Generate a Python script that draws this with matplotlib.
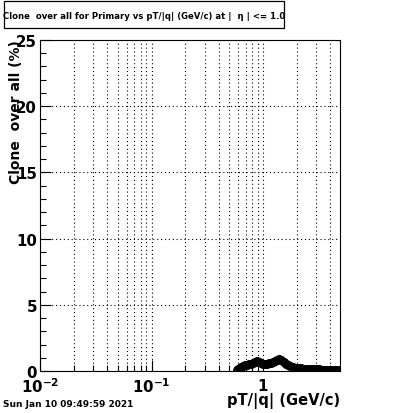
import numpy as np
import matplotlib
matplotlib.use("Agg")
import matplotlib.pyplot as plt
from matplotlib.patches import Rectangle
from matplotlib.ticker import FixedLocator, FixedFormatter, MultipleLocator, NullFormatter

# clone rate vs pT/|q|
pt = [0.58, 0.60, 0.62, 0.64, 0.66, 0.69, 0.72, 0.75, 0.78, 0.82, 0.85, 0.88,
      0.92, 0.96, 1.00, 1.04, 1.08, 1.13, 1.18, 1.23, 1.28, 1.34, 1.40, 1.46,
      1.53, 1.60, 1.68, 1.76, 1.85, 1.95, 2.06, 2.18, 2.32, 2.47, 2.63, 2.80,
      3.00, 3.20, 3.42, 3.65, 3.90, 4.15, 4.45, 4.75]
clone = [0.05, 0.15, 0.25, 0.30, 0.38, 0.42, 0.45, 0.50, 0.52, 0.58, 0.65, 0.72,
         0.70, 0.62, 0.55, 0.50, 0.52, 0.58, 0.62, 0.70, 0.78, 0.85, 0.88, 0.80,
         0.65, 0.52, 0.42, 0.35, 0.30, 0.26, 0.22, 0.20, 0.18, 0.16, 0.15, 0.14,
         0.12, 0.12, 0.11, 0.11, 0.10, 0.10, 0.10, 0.10]

title = "Clone  over all for Primary vs pT/|q| (GeV/c) at |  η | <= 1.0"
xlabel = "pT/|q| (GeV/c)"
ylabel = "Clone  over all (%)"
stamp = "Sun Jan 10 09:49:59 2021"

fig = plt.figure(figsize=(4.0, 4.14), dpi=100)
ax = fig.add_axes([0.10, 0.1014, 0.75, 0.7996])

ax.plot(pt, clone, linestyle="none", marker="o", markersize=5.5,
        color="black", markeredgecolor="black")

ax.set_xscale("log")
ax.set_xlim(0.01, 4.9)
ax.set_ylim(0, 25)

# ticks inside, only on bottom/left, ROOT style
ax.tick_params(axis="both", which="both", direction="in", top=False, right=False)
ax.tick_params(axis="both", which="major", length=8, width=0.8)
ax.tick_params(axis="both", which="minor", length=4, width=0.8)
ax.yaxis.set_major_locator(MultipleLocator(5))
ax.yaxis.set_minor_locator(MultipleLocator(1))
ax.xaxis.set_major_locator(FixedLocator([0.01, 0.1, 1]))
ax.xaxis.set_major_formatter(FixedFormatter([r"$\mathbf{10^{-2}}$", r"$\mathbf{10^{-1}}$", r"$\mathbf{1}$"]))
minors = [m * d for d in (0.01, 0.1, 1) for m in range(2, 10)]
ax.xaxis.set_minor_locator(FixedLocator(minors))
ax.xaxis.set_minor_formatter(NullFormatter())
for lab in ax.get_xticklabels() + ax.get_yticklabels():
    lab.set_fontweight("bold")
    lab.set_fontsize(10.8)
ax.tick_params(axis="x", pad=4)
ax.tick_params(axis="y", pad=2)

ax.grid(True, which="major", axis="both", linestyle=(0, (1, 2.5)), color="black", linewidth=0.8)
ax.grid(True, which="minor", axis="x", linestyle=(0, (1, 2.5)), color="black", linewidth=0.8)

for s in ax.spines.values():
    s.set_linewidth(0.8)

# axis titles, right/top aligned like ROOT
fig.text(0.85, 0.022, xlabel, ha="right", va="baseline", fontsize=10.5, fontweight="bold")
fig.text(0.022, 0.903, ylabel, ha="left", va="top", rotation=90, fontsize=10, fontweight="bold")

# title box
fig.add_artist(Rectangle((0.01, 0.93), 0.70, 0.0652, transform=fig.transFigure,
                         facecolor="white", edgecolor="black", linewidth=0.9))
fig.text(0.36, 0.961, title, ha="center", va="center", fontsize=6.1, fontweight="bold")

fig.text(0.008, 0.016, stamp, ha="left", va="baseline", fontsize=6.5, fontweight="bold")

fig.savefig("out.png", dpi=100)
